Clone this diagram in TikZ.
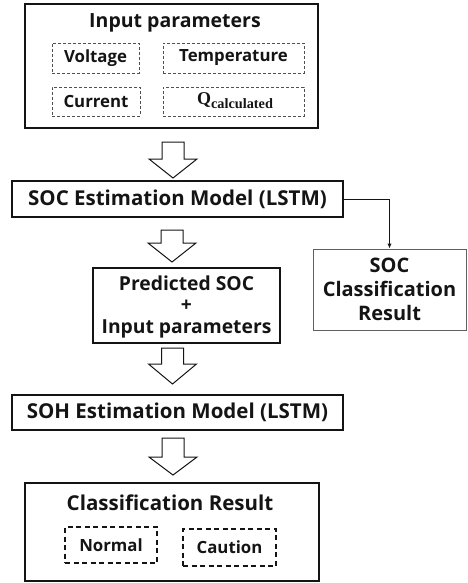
\documentclass[tikz,border=0pt]{standalone}
\usepackage{fontspec}
\setmainfont{Open Sans}
\newfontfamily\qserif{Liberation Serif}
\usetikzlibrary{arrows.meta}

\definecolor{ink}{HTML}{141414}
\definecolor{dashgray}{HTML}{505050}
\definecolor{thingray}{HTML}{606060}

\tikzset{
  mainbox/.style={draw=ink, line width=1.6pt, rectangle, inner sep=0pt},
  softbox/.style={draw=thingray, line width=1pt, rectangle, inner sep=0pt},
  midbox/.style={draw=ink, line width=1.3pt, rectangle, inner sep=0pt},
  paramdash/.style={draw=dashgray, line width=0.9pt, dash pattern=on 3pt off 2pt, rectangle, inner sep=0pt},
  classdash/.style={draw=ink, line width=1.3pt, dash pattern=on 5pt off 3.5pt, rectangle, inner sep=0pt},
  bigtxt/.style={text=ink, font=\fontsize{20.5}{24}\selectfont\bfseries},
  smalltxt/.style={text=ink, font=\fontsize{16.8}{20}\selectfont\bfseries},
  blockarrow/.style={draw=ink, line width=1pt, fill=white, line join=miter},
  conn/.style={draw=ink, line width=1pt, -{Latex[length=5pt,width=4.5pt]}},
}

\begin{document}
\begin{tikzpicture}[x=1pt, y=-1pt]
  \useasboundingbox (0,0) rectangle (467,583);

  % input parameters block
  \node[mainbox, minimum width=293pt, minimum height=124pt] (inbox) at (171.5,66) {};
  \node[bigtxt, font=\fontsize{19.5}{24}\selectfont\bfseries] (intitle) at (175,23) {Input parameters};
  \node[paramdash, minimum width=87pt, minimum height=30pt] (volt) at (95.5,58) {};
  \node[smalltxt] at (volt.center) {Voltage};
  \node[paramdash, minimum width=141pt, minimum height=30pt] (temp) at (233.5,58) {};
  \node[smalltxt] at (temp.center) {Temperature};
  \node[paramdash, minimum width=88pt, minimum height=29pt] (curr) at (96,101.5) {};
  \node[smalltxt] at (curr.center) {Current};
  \node[paramdash, minimum width=141pt, minimum height=29pt] (qcal) at (233.5,101.5) {};
  \node[text=ink] at ([xshift=1.5pt,yshift=1pt]qcal.center)
    {\qserif\bfseries\fontsize{18}{20}\selectfont Q\raisebox{-3.5pt}{\fontsize{14.3}{16}\selectfont calculated}};

  % SOC estimation
  \node[mainbox, minimum width=331pt, minimum height=36pt] (socbox) at (177.5,199) {};
  \node[bigtxt] at (socbox.center) {SOC Estimation Model (LSTM)};

  % SOC classification
  \node[softbox, minimum width=153pt, minimum height=81pt] (socclass) at (389.5,289.5) {};
  \node[bigtxt, font=\fontsize{20}{24}\selectfont\bfseries, align=center] at (socclass.center)
    {SOC\\Classification\\Result};

  % predicted SOC + inputs
  \node[midbox, minimum width=187pt, minimum height=75pt] (pred) at (186.5,305.5) {};
  \node[bigtxt, font=\fontsize{19.3}{21.5}\selectfont\bfseries, align=center] at ([yshift=-1pt]pred.center)
    {Predicted SOC\\+\\Input parameters};

  % SOH estimation
  \node[mainbox, minimum width=331pt, minimum height=35pt] (sohbox) at (177.5,412.5) {};
  \node[bigtxt] at (sohbox.center) {SOH Estimation Model (LSTM)};

  % final classification
  \node[mainbox, minimum width=294pt, minimum height=98pt] (clsbox) at (172,532) {};
  \node[bigtxt] at (170,503) {Classification Result};
  \node[classdash, minimum width=92pt, minimum height=36pt] (normal) at (111,545) {};
  \node[smalltxt] at (normal.center) {Normal};
  \node[classdash, minimum width=93pt, minimum height=37pt] (caution) at (229.5,547.5) {};
  \node[smalltxt] at (caution.center) {Caution};

  % hollow block arrows between stages: shaft top, head start, tip
  \newcommand{\flowarrow}[4]{%
    \draw[blockarrow] (#1-11,#2) -- (#1-11,#3) -- (#1-24,#3) -- (#1,#4)
      -- (#1+24,#3) -- (#1+11,#3) -- (#1+11,#2) -- cycle;}
  \flowarrow{173}{142}{159}{178}
  \flowarrow{172}{230}{243}{262}
  \flowarrow{172.5}{348}{364}{384}
  \flowarrow{173}{438}{457}{475}

  % side branch to SOC classification
  \draw[conn] (socbox.east) -| (socclass.north);
\end{tikzpicture}
\end{document}
